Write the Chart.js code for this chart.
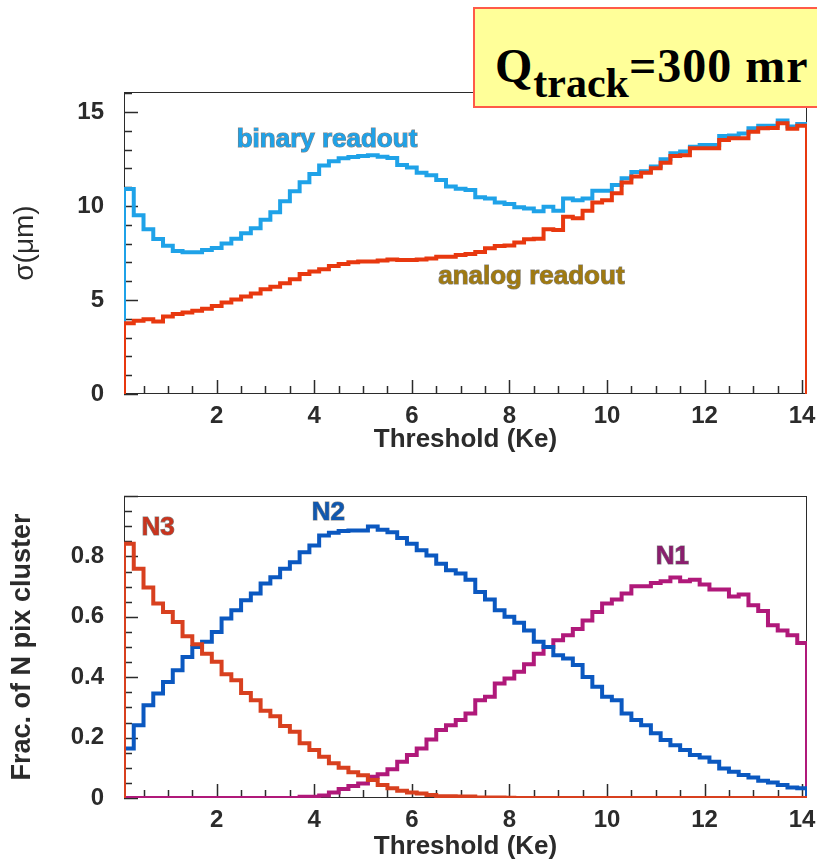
<!DOCTYPE html>
<html>
<head>
<meta charset="utf-8">
<script src="https://cdn.jsdelivr.net/npm/chart.js@4.4.1/dist/chart.umd.min.js"></script>
<style>
  html, body { margin: 0; padding: 0; background: #fff; overflow: hidden; width: 817px; height: 859px; }
  canvas { position: absolute; left: 0; }
  #c1 { top: 80px; }
  #c2 { top: 480px; }
  .qbox {
    position: absolute; left: 473px; top: 7px; width: 360px; height: 97px;
    background: #ffff99; border: 2px solid #ff5a48;
  }
  .qbox .txt {
    position: absolute; left: 20px; top: 33px; white-space: nowrap;
    font-family: 'Liberation Serif', 'Times New Roman', serif; font-weight: bold;
    font-size: 48px; line-height: 1; color: #000; letter-spacing: 1px;
  }
  .qbox .txt sub { font-size: 42px; vertical-align: -15px; letter-spacing: 0; }
</style>
</head>
<body>
<canvas id="c1" width="817" height="390"></canvas>
<canvas id="c2" width="817" height="390"></canvas>
<div class="qbox"><div class="txt">Q<sub>track</sub>=300 mr</div></div>
<script>
// Histogram binning (Threshold, Ke)
const binStart = 0.1;
const binWidth = 0.2;

// Tick labels
const thresholdTicks = [2, 4, 6, 8, 10, 12, 14];
const sigmaTicks = [0, 5, 10, 15];
const fracTicks = [0, 0.2, 0.4, 0.6, 0.8];

// Top panel: resolution sigma (um), one value per bin
const sigmaBinary = [
  10.9, 9.5, 8.76, 8.24, 7.89, 7.6, 7.54, 7.54, 7.66, 7.77,
  8.0, 8.26, 8.55, 8.81, 9.26, 9.66, 10.25, 10.78, 11.26, 11.7,
  12.15, 12.38, 12.54, 12.6, 12.66, 12.7, 12.62, 12.55, 12.18, 12.04,
  11.77, 11.63, 11.38, 11.03, 10.92, 10.85, 10.46, 10.39, 10.18, 10.1,
  9.93, 9.86, 9.72, 9.96, 9.75, 10.4, 10.3, 10.4, 10.81, 10.81,
  11.12, 11.47, 11.8, 11.85, 12.1, 12.48, 12.8, 12.89, 13.15, 13.24,
  13.24, 13.72, 13.75, 13.85, 14.13, 14.26, 14.26, 14.54, 14.22, 14.36
];
const sigmaAnalog = [
  3.76, 3.9, 3.97, 3.85, 4.12, 4.26, 4.33, 4.43, 4.54, 4.68,
  4.87, 5.03, 5.18, 5.35, 5.57, 5.71, 5.89, 6.1, 6.38, 6.51,
  6.63, 6.81, 6.91, 7.0, 7.04, 7.04, 7.1, 7.15, 7.13, 7.13,
  7.15, 7.2, 7.3, 7.3, 7.39, 7.45, 7.55, 7.75, 7.87, 7.9,
  8.05, 8.23, 8.25, 8.76, 8.72, 9.43, 9.34, 9.75, 10.18, 10.3,
  10.68, 11.25, 11.56, 11.77, 12.0, 12.3, 12.65, 12.7, 13.07, 13.07,
  13.07, 13.51, 13.6, 13.6, 13.95, 14.13, 14.15, 14.4, 14.1, 14.26
];

// Bottom panel: fraction of N-pixel clusters, one value per bin
const fracN3 = [
  0.842, 0.759, 0.697, 0.644, 0.616, 0.583, 0.536, 0.509, 0.478, 0.451,
  0.41, 0.39, 0.348, 0.324, 0.289, 0.271, 0.238, 0.219, 0.181, 0.159,
  0.137, 0.115, 0.1, 0.085, 0.075, 0.06, 0.043, 0.032, 0.024, 0.018,
  0.015, 0.01, 0.006, 0.006, 0.005, 0.005, 0.002, 0.002, 0.002, 0.001,
  0, 0, 0, 0, 0, 0, 0, 0, 0, 0,
  0, 0, 0, 0, 0, 0, 0, 0, 0, 0,
  0, 0, 0, 0, 0, 0, 0, 0, 0, 0
];
const fracN2 = [
  0.164, 0.241, 0.307, 0.346, 0.384, 0.423, 0.467, 0.5, 0.517, 0.55,
  0.594, 0.622, 0.655, 0.677, 0.71, 0.731, 0.759, 0.781, 0.814, 0.836,
  0.869, 0.878, 0.884, 0.886, 0.886, 0.899, 0.888, 0.88, 0.861, 0.842,
  0.82, 0.803, 0.776, 0.754, 0.743, 0.723, 0.682, 0.657, 0.622, 0.6,
  0.58, 0.555, 0.517, 0.5, 0.473, 0.462, 0.44, 0.401, 0.368, 0.335,
  0.324, 0.28, 0.258, 0.241, 0.214, 0.192, 0.175, 0.159, 0.142, 0.134,
  0.12, 0.098, 0.087, 0.076, 0.068, 0.057, 0.051, 0.043, 0.035, 0.032
];
const fracN1 = [
  0, 0, 0, 0, 0, 0, 0, 0, 0, 0,
  0, 0, 0, 0, 0, 0, 0, 0, 0.004, 0.004,
  0.008, 0.018, 0.03, 0.04, 0.048, 0.07, 0.079, 0.095, 0.12, 0.142,
  0.164, 0.194, 0.225, 0.241, 0.258, 0.28, 0.324, 0.335, 0.379, 0.396,
  0.418, 0.443, 0.478, 0.5, 0.522, 0.539, 0.56, 0.588, 0.616, 0.644,
  0.657, 0.677, 0.701, 0.701, 0.712, 0.718, 0.73, 0.718, 0.723, 0.707,
  0.69, 0.69, 0.667, 0.674, 0.638, 0.619, 0.572, 0.555, 0.539, 0.513
];

// Turn bin contents into a closed histogram outline (ROOT style)
const histogram = (values) => {
  const pts = [{ x: binStart, y: 0 }];
  values.forEach((v, i) => {
    const lo = binStart + i * binWidth;
    pts.push({ x: lo, y: v }, { x: lo + binWidth, y: v });
  });
  pts.push({ x: binStart + values.length * binWidth, y: 0 });
  return pts;
};

const FONT = "'Liberation Sans', Arial, Helvetica, sans-serif";
const INK = '#2b2b2b';

// Frame box + inward major/minor ticks, drawn under the histograms
const frameTicks = {
  id: 'frameTicks',
  beforeDatasetsDraw(chart, args, opts) {
    const { ctx, chartArea: a, scales: { x, y } } = chart;
    ctx.save();
    ctx.strokeStyle = INK;
    ctx.lineWidth = 1;
    ctx.strokeRect(a.left + 0.5, a.top + 0.5, a.right - a.left - 1, a.bottom - a.top - 1);

    const walk = (scale, minor, major, draw) => {
      const first = Math.ceil(scale.min / minor - 1e-6);
      for (let k = first; k * minor <= scale.max + 1e-6; k++) {
        const v = k * minor;
        const isMajor = Math.abs(v / major - Math.round(v / major)) < 1e-6;
        draw(Math.round(scale.getPixelForValue(v)) + 0.5, isMajor ? 14 : 8);
      }
    };
    ctx.lineWidth = 1.5;
    ctx.beginPath();
    walk(x, opts.xMinor, opts.xMajor, (px, len) => {
      ctx.moveTo(px, a.bottom);
      ctx.lineTo(px, a.bottom - len);
    });
    walk(y, opts.yMinor, opts.yMajor, (py, len) => {
      ctx.moveTo(a.left, py);
      ctx.lineTo(a.left + len, py);
    });
    ctx.stroke();
    ctx.restore();
  }
};

// Text labels placed in data coordinates
const curveLabels = {
  id: 'curveLabels',
  afterDatasetsDraw(chart, args, opts) {
    const { ctx, scales: { x, y } } = chart;
    ctx.save();
    ctx.font = `bold ${opts.size}px ${FONT}`;
    ctx.textAlign = 'left';
    ctx.textBaseline = 'middle';
    opts.items.forEach(it => {
      const px = x.getPixelForValue(it.x);
      const py = y.getPixelForValue(it.y);
      ctx.lineWidth = 1.2;
      ctx.strokeStyle = 'rgba(20,20,20,0.55)';
      ctx.strokeText(it.text, px, py);
      ctx.fillStyle = it.color;
      ctx.fillText(it.text, px, py);
    });
    ctx.restore();
  }
};

const line = (label, values, color) => ({
  label,
  data: histogram(values),
  borderColor: color,
  borderWidth: 4,
  pointRadius: 0,
  tension: 0,
  fill: false,
  borderJoinStyle: 'miter'
});

// tick padding is done with (hidden) tick length so the layout does not grow
const xAxis = (height, titlePad) => ({
  type: 'linear',
  min: 0.1,
  max: 14.1,
  afterBuildTicks: s => { s.ticks = thresholdTicks.map(v => ({ value: v })); },
  afterFit: s => { s.height = height; },
  grid: { display: false, drawTicks: true, tickLength: 8 },
  border: { display: false },
  ticks: {
    padding: 0, color: INK, autoSkip: false, maxRotation: 0,
    font: { family: FONT, size: 24, weight: 'bold' }
  },
  title: {
    display: true, text: 'Threshold (Ke)', color: INK,
    font: { family: FONT, size: 26, weight: 'bold' },
    padding: { top: 0, bottom: titlePad }
  }
});

const yAxis = (max, tickList, title, titleFont, titlePad) => ({
  type: 'linear',
  min: 0,
  max,
  afterBuildTicks: s => { s.ticks = tickList.map(v => ({ value: v })); },
  afterFit: s => { s.width = 124; },
  grid: { display: false, drawTicks: true, tickLength: 20 },
  border: { display: false },
  ticks: {
    padding: 0, color: INK,
    font: { family: FONT, size: 24, weight: 'bold', lineHeight: 1 },
    callback: v => (v === 0 ? '0' : String(v))
  },
  title: {
    display: true, text: title, color: INK, font: titleFont,
    padding: { top: titlePad, bottom: 0 }
  }
});

const common = {
  responsive: false,
  animation: false,
  events: [],
  plugins: { legend: { display: false }, tooltip: { enabled: false } }
};

// Top panel: sigma vs threshold
new Chart(document.getElementById('c1').getContext('2d'), {
  type: 'line',
  data: {
    datasets: [
      line('analog readout', sigmaAnalog, '#e8380f'),
      line('binary readout', sigmaBinary, '#1fa2e8')
    ]
  },
  options: {
    ...common,
    layout: { padding: { top: 12, right: 10, left: 0, bottom: 0 } },
    scales: {
      x: xAxis(76, 15),
      y: yAxis(16.06, sigmaTicks, 'σ(μm)', { family: FONT, size: 28, weight: 'normal' }, 8)
    },
    plugins: {
      ...common.plugins,
      frameTicks: { xMinor: 0.5, xMajor: 2, yMinor: 1, yMajor: 5 },
      curveLabels: {
        size: 26,
        items: [
          { text: 'binary readout', x: 2.41, y: 13.5, color: '#1fa2e8' },
          { text: 'analog readout', x: 6.54, y: 6.22, color: '#a07a10' }
        ]
      }
    }
  },
  plugins: [frameTicks, curveLabels]
});

// Bottom panel: fraction of N-pixel clusters vs threshold
new Chart(document.getElementById('c2').getContext('2d'), {
  type: 'line',
  data: {
    datasets: [
      line('N3', fracN3, '#d8401f'),
      line('N2', fracN2, '#0b58c0'),
      line('N1', fracN1, '#b0197a')
    ]
  },
  options: {
    ...common,
    layout: { padding: { top: 16, right: 10, left: 0, bottom: 0 } },
    scales: {
      x: xAxis(72, 8),
      y: yAxis(1.0, fracTicks, 'Frac. of N pix cluster', { family: FONT, size: 27, weight: 'bold' }, 6)
    },
    plugins: {
      ...common.plugins,
      frameTicks: { xMinor: 0.5, xMajor: 2, yMinor: 0.05, yMajor: 0.2 },
      curveLabels: {
        size: 26,
        items: [
          { text: 'N3', x: 0.46, y: 0.896, color: '#c8341e' },
          { text: 'N2', x: 3.95, y: 0.945, color: '#1058b0' },
          { text: 'N1', x: 11.0, y: 0.797, color: '#8a1e6e' }
        ]
      }
    }
  },
  plugins: [frameTicks, curveLabels]
});
</script>
</body>
</html>
